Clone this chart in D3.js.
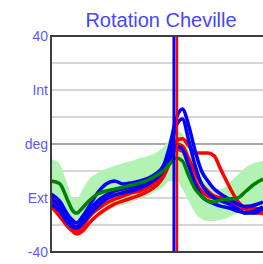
<!DOCTYPE html>
<html>
<head>
<meta charset="utf-8">
<script src="https://cdn.jsdelivr.net/npm/d3@7"></script>
<style>
  body { margin: 0; background: #fff; }
  svg { display: block; font-family: Arial, "Liberation Sans", sans-serif; }
</style>
</head>
<body>
<div id="chart"></div>
<script>
// % du cycle
const cycle = [0, 4, 8, 10, 12, 15, 18, 22, 26, 30, 34, 38, 42, 46, 50, 53, 56, 59, 62, 65, 68, 71, 74, 77, 80, 84, 88, 92, 96, 100];

// norme (moyenne + bande)
const normMean = [-13.7, -14.6, -21.1, -24.4, -25.6, -23.5, -21, -18.5, -17.4, -16.7, -16, -15.2, -14.4, -13.3, -11.5, -10, -7.4, -5.2, -6.3, -11.9, -16.7, -19.3, -21.1, -21.5, -20.7, -20.4, -20, -17.4, -14.8, -13];
const normUpper = [-5.6, -7.4, -15.6, -20, -20.4, -16.7, -13, -10.7, -9.3, -8.1, -7, -6.3, -5.2, -4.4, -3, -1.1, 1.9, 5.2, 3.7, -2.6, -9.3, -13, -14.8, -16.3, -16.7, -14.4, -11.5, -8.5, -7, -6.3];
const normLower = [-21.1, -23, -26.7, -28.5, -29.3, -27.8, -26.3, -24.8, -23.7, -23.3, -22.6, -21.5, -20.4, -18.9, -17.4, -15.9, -13.7, -13.7, -16.7, -21.1, -25.6, -27.8, -28.5, -28.5, -28.1, -27, -25.6, -24.4, -23.7, -22.2];

// essais droite (rouge)
const right1 = [-21.1, -24.8, -29.3, -31.1, -32.2, -30.4, -27, -24.1, -21.9, -20.4, -19.3, -18.1, -17.4, -15.9, -13.7, -10.7, -5.6, 1.1, 1.9, -0.7, -3.3, -3.3, -3.3, -4.4, -9.3, -15.6, -21.1, -24.1, -25.6, -25.6];
const right2 = [-23, -26.7, -30.7, -32.2, -33.3, -32.2, -29.3, -26.3, -24.1, -22.2, -21.1, -20, -18.9, -17.4, -15.2, -12.2, -7, -1.9, -2.6, -8.1, -13.7, -17.4, -19.3, -20, -20.4, -21.1, -23, -24.1, -24.8, -25.9];
const right3 = [-19.3, -23, -27.8, -29.6, -30.7, -29.3, -25.6, -22.2, -20, -18.9, -18.1, -17, -15.9, -14.4, -12.2, -9.3, -4.4, 0, -0.7, -5.6, -10.7, -14.8, -17.4, -19.3, -20, -21.1, -24.8, -23, -23.7, -24.8];

// essais gauche (bleu)
const left1 = [-18.5, -21.1, -26.3, -28.1, -29.3, -26.7, -23, -18.1, -14.8, -13.7, -14.8, -14.4, -13.7, -12.6, -10.7, -8.1, -0.7, 9.3, 13, 6.7, -2.6, -10, -13.7, -16.7, -18.5, -20.4, -22.2, -23.3, -22.6, -21.5];
const left2 = [-20.4, -23, -27.8, -30, -30.7, -28.5, -24.8, -21.1, -18.9, -17.4, -16.7, -15.9, -15.2, -13.7, -11.5, -8.5, -2.6, 6.7, 9.3, 1.1, -8.1, -14.8, -18.1, -20, -21.1, -22.2, -24.1, -25.6, -25.6, -23.7];
const left3 = [-22.2, -24.8, -29.3, -30.7, -31.1, -29.3, -26.3, -23, -20.4, -18.9, -18.1, -17.4, -16.3, -14.8, -12.6, -10, -5.6, -0.7, -1.9, -8.1, -14.8, -19.3, -21.1, -22.2, -23, -23.7, -24.8, -25.6, -24.8, -23.3];

// decollement des orteils (% cycle)
const toeOffLeft = 58;
const toeOffRight = 59.4;

const yTicks = [40, 20, 0, -20, -40];
const yTickLabels = ["40", "Int", "deg", "Ext", "-40"];
const gridValues = [30, 20, 10, 0, -10, -20, -30];

const W = 263, H = 264;
const margin = { top: 36, right: 0, bottom: 12, left: 51 };

const svg = d3.select("#chart")
  .append("svg")
  .attr("width", W)
  .attr("height", H);

const x = d3.scaleLinear().domain([0, 100]).range([margin.left, W]);
const y = d3.scaleLinear().domain([-40, 40]).range([H - margin.bottom, margin.top]);

// titre
svg.append("text")
  .attr("x", 161)
  .attr("y", 27)
  .attr("text-anchor", "middle")
  .style("font-size", "20px")
  .style("fill", "#4646ff")
  .text("Rotation Cheville");

// grille
svg.selectAll(".grid")
  .data(gridValues)
  .enter().append("line")
  .attr("x1", margin.left)
  .attr("x2", W)
  .attr("y1", d => y(d))
  .attr("y2", d => y(d))
  .attr("stroke", d => d === 0 ? "#8c8c8c" : "#c8c8c8")
  .attr("stroke-width", 1.5);

// bande de la norme
const area = d3.area()
  .x((d, i) => x(cycle[i]))
  .y0((d, i) => y(normLower[i]))
  .y1((d, i) => y(normUpper[i]))
  .curve(d3.curveMonotoneX);

svg.append("path")
  .datum(normUpper)
  .attr("d", area)
  .attr("fill", "#b2f2b2");

const line = d3.line()
  .x((d, i) => x(cycle[i]))
  .y(d => y(d))
  .curve(d3.curveMonotoneX);

const series = [
  { v: right1, c: "#ff0000" },
  { v: right2, c: "#ff0000" },
  { v: right3, c: "#ff0000" },
  { v: left1, c: "#0000ff" },
  { v: left2, c: "#0000ff" },
  { v: left3, c: "#0000ff" },
  { v: normMean, c: "#008000" }
];

svg.selectAll(".trial")
  .data(series)
  .enter().append("path")
  .attr("class", "trial")
  .attr("d", d => line(d.v))
  .attr("fill", "none")
  .attr("stroke", d => d.c)
  .attr("stroke-width", 3.5)
  .attr("stroke-linejoin", "round");

// lignes verticales
svg.append("line")
  .attr("x1", x(toeOffLeft)).attr("x2", x(toeOffLeft))
  .attr("y1", y(40)).attr("y2", y(-40))
  .attr("stroke", "#0000ff")
  .attr("stroke-width", 3);

svg.append("line")
  .attr("x1", x(toeOffRight)).attr("x2", x(toeOffRight))
  .attr("y1", y(40)).attr("y2", y(-40))
  .attr("stroke", "#ff0000")
  .attr("stroke-width", 2.5);

// cadre
svg.append("path")
  .attr("d", `M${W},${y(40)}H${margin.left}V${y(-40)}H${W}`)
  .attr("fill", "none")
  .attr("stroke", "#3c3c3c")
  .attr("stroke-width", 2);

// axe gauche
svg.selectAll(".ylab")
  .data(yTicks)
  .enter().append("text")
  .attr("x", 48)
  .attr("y", d => y(d))
  .attr("dy", "0.35em")
  .attr("text-anchor", "end")
  .style("font-size", "14px")
  .style("fill", "#5a5aff")
  .text((d, i) => yTickLabels[i]);
</script>
</body>
</html>
